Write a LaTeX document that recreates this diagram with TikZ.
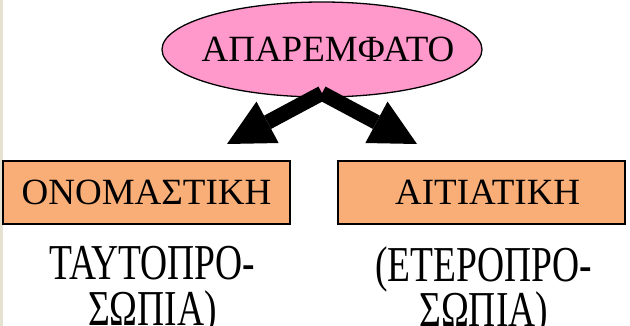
\documentclass[tikz,border=0pt]{standalone}
\usepackage{fontspec}
\setmainfont{Liberation Serif}
\usepackage{tikz}
\usetikzlibrary{arrows.meta,shapes.geometric,positioning}
\definecolor{moodpink}{HTML}{FF99CC}
\definecolor{caseorange}{HTML}{F9AE78}
\definecolor{slidebeige}{HTML}{E6E2D2}
\newcommand{\tallline}[1]{\scalebox{1}[1.34]{#1}}
\newcommand{\notefont}{\fontsize{37.5}{45.5}\selectfont\lineskiplimit=-50pt\relax}
\tikzset{
	moodshape/.style={
		draw=black,
		line width=1.3pt,
		fill=moodpink,
	},
	mood/.style={
		ellipse,
		minimum width=320pt,
		minimum height=95pt,
		inner sep=0pt,
		font=\fontsize{37}{40}\selectfont,
	},
	case/.style={
		rectangle,
		draw=black,
		line width=2.2pt,
		fill=caseorange,
		minimum width=287pt,
		minimum height=63pt,
		inner sep=0pt,
		font=\fontsize{37}{40}\selectfont,
	},
	note/.style={
		align=center,
		inner sep=0pt,
		font=\notefont,
	},
}

\begin{document}
\begin{tikzpicture}[x=1pt, y=1pt, >={Triangle[length=46pt, width=47pt, line width=0pt]}]
				
				\fill [slidebeige] (0,0) rectangle (3,-326);
				\useasboundingbox (0,0) rectangle (630,-326);
				
				\draw [moodshape] (322,-49.5) ellipse [x radius=160, y radius=47.5];
				\node [mood] (apar) at (322,-49.5) {\makebox[0pt][c]{\hspace*{12pt}ΑΠΑΡΕΜΦΑΤΟ}};
				\node [case] (onom) at (146.5,-192.5) {ΟΝΟΜΑΣΤΙΚΗ};
				\node [case] (aitiat) [right=46pt of onom] {\hspace*{12pt}ΑΙΤΙΑΤΙΚΗ};
				
				\node [note] (onomnote) [below=21pt of onom, xshift=6pt] {\tallline{ΤΑΥΤΟΠΡΟ-}\\\tallline{ΣΩΠΙΑ)}};
				\node [note] (aitiatnote) [below=21pt of aitiat, xshift=2pt] {\tallline{(ΕΤΕΡΟΠΡΟ-}\\\tallline{ΣΩΠΙΑ)}};
				
				\coordinate (lefttip) at (227,-144);
				\coordinate (righttip) at (417,-144);
				\draw [->, line width=15pt] ([yshift=4pt]apar.south) -- (lefttip);
				\draw [->, line width=15pt] ([yshift=4pt]apar.south) -- (righttip);
			\end{tikzpicture}
\end{document}
